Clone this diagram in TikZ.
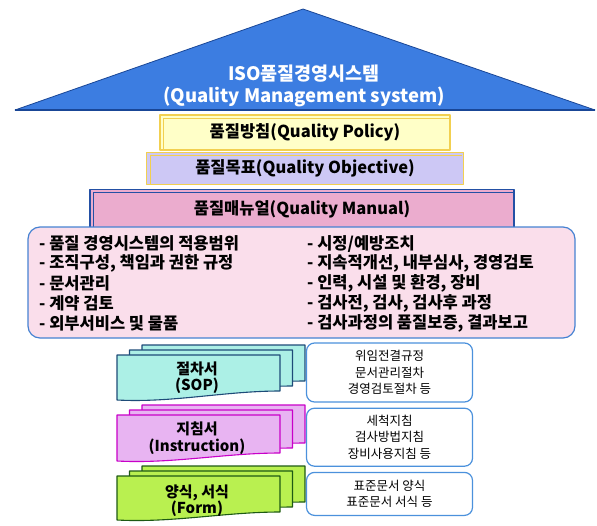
\documentclass[tikz,border=0pt]{standalone}
\usepackage{fontspec}
\setmainfont{Noto Sans CJK KR}
\usetikzlibrary{positioning}

\definecolor{roofblue}{RGB}{60,125,225}
\definecolor{roofedge}{RGB}{25,70,150}
\definecolor{policyfill}{RGB}{255,255,200}
\definecolor{policyedge}{RGB}{242,208,80}
\definecolor{objfill}{RGB}{205,200,245}
\definecolor{manualfill}{RGB}{235,172,206}
\definecolor{manualedge}{RGB}{35,80,165}
\definecolor{scopefill}{RGB}{250,222,235}
\definecolor{scopeedge}{RGB}{70,130,210}
\definecolor{sopfill}{RGB}{172,240,230}
\definecolor{sopedge}{RGB}{30,75,120}
\definecolor{instrfill}{RGB}{232,180,242}
\definecolor{instredge}{RGB}{200,0,200}
\definecolor{formfill}{RGB}{185,240,80}
\definecolor{formedge}{RGB}{30,90,20}
\definecolor{noteedge}{RGB}{75,145,220}

\begin{document}
\begin{tikzpicture}[x=1pt, y=-1pt, line join=round,
    slab/.style = {draw, line width=1.2pt, font=\bfseries\fontsize{16.5}{18}\selectfont},
    item/.style = {anchor=west, inner sep=0pt, font=\bfseries\fontsize{16.5}{18}\selectfont},
    doclabel/.style = {align=center, font=\bfseries\fontsize{15}{16.5}\selectfont},
    note/.style = {draw=noteedge, fill=white, rounded corners=8pt, line width=1.2pt,
                   minimum width=166pt, align=center, font=\fontsize{12.5}{16.5}\selectfont}]
    \useasboundingbox (0,0) rectangle (597,525);

    % roof
    \coordinate (eaveL) at (15,110);
    \coordinate (apex) at (303,9);
    \coordinate (eaveR) at (595,110);
    \filldraw[fill=roofblue, draw=roofedge, line width=0.8pt] (eaveL) -- (apex) -- (eaveR) -- cycle;
    \draw[roofedge, line width=2pt] (eaveL) -- (eaveR);
    \node[align=center, text=white, font=\bfseries\fontsize{18.5}{22.5}\selectfont] (title) at (304,86)
        {ISO품질경영시스템\\(Quality Management system)};

    % policy, objective, manual
    \node[slab, draw=policyedge, fill=policyfill, minimum width=290pt, minimum height=35pt]
        (policy) at (305,132.5) {품질방침(Quality Policy)};
    \node[slab, draw=policyedge, fill=objfill, minimum width=317pt, minimum height=32pt]
        (objective) [below=1pt of policy] {품질목표(Quality Objective)};
    \node[slab, draw=manualedge, fill=manualfill, minimum width=424pt, minimum height=39pt]
        (manual) [below=4pt of objective, xshift=-3pt] {품질매뉴얼(Quality Manual)};
    \foreach \s/\c in {policy/policyedge, objective/policyedge, manual/manualedge}
        \draw[\c, line width=0.7pt] ([xshift=4pt]\s.south west) -- ([shift={(4,4)}]\s.north west)
            -- ([shift={(-2,4)}]\s.north east);

    % scope of the manual
    \node[draw=scopeedge, fill=scopefill, rounded corners=12pt, line width=1.2pt,
          minimum width=547pt, minimum height=111pt] (scope) at (301.5,282.5) {};
    \foreach \txt [count=\i] in {품질 경영시스템의 적용범위, {조직구성, 책임과 권한 규정}, 문서관리,
                                  계약 검토, 외부서비스 및 물품}
        \node[item] (scopeL\i) at (39,224+19.8*\i) {- \txt};
    \foreach \txt [count=\i] in {시정/예방조치, {지속적개선, 내부심사, 경영검토},
                                  {인력, 시설 및 환경, 장비}, {검사전, 검사, 검사후 과정},
                                  {검사과정의 품질보증, 결과보고}}
        \node[item] (scopeR\i) at (307,224+19.8*\i) {- \txt};

    % document stacks
    \foreach \k in {2,1,0}
        \filldraw[fill=sopfill, draw=sopedge, line width=1.1pt, shift={(12.5*\k,-5*\k)}]
            (117,355) -- ++(163,0) -- ++(0,36) .. controls +(-55,0) and +(55,3) .. (117,400) -- cycle;
    \foreach \k in {2,1,0}
        \filldraw[fill=instrfill, draw=instredge, line width=1.1pt, shift={(12.5*\k,-5*\k)}]
            (117,415) -- ++(163,0) -- ++(0,38) .. controls +(-55,0) and +(55,3) .. (117,461) -- cycle;
    \foreach \k in {2,1,0}
        \filldraw[fill=formfill, draw=formedge, line width=1.1pt, shift={(12.5*\k,-5*\k)}]
            (117,476) -- ++(163,0) -- ++(0,36) .. controls +(-55,0) and +(55,3) .. (117,520) -- cycle;
    \node[doclabel] (sop) at (197,377.5) {절차서\\(SOP)};
    \node[doclabel] (instr) at (197,438) {지침서\\(Instruction)};
    \node[doclabel] (form) at (197,500.5) {양식, 서식\\(Form)};

    % examples
    \node[note, minimum height=59pt] (sopnote) at (389.5,372.5) {위임전결규정\\문서관리절차\\경영검토절차 등};
    \node[note, minimum height=58pt] (instrnote) [below=5pt of sopnote] {세척지침\\검사방법지침\\장비사용지침 등};
    \node[note, minimum height=43pt] (formnote) [below=5pt of instrnote] {표준문서 양식\\표준문서 서식 등};
\end{tikzpicture}
\end{document}
